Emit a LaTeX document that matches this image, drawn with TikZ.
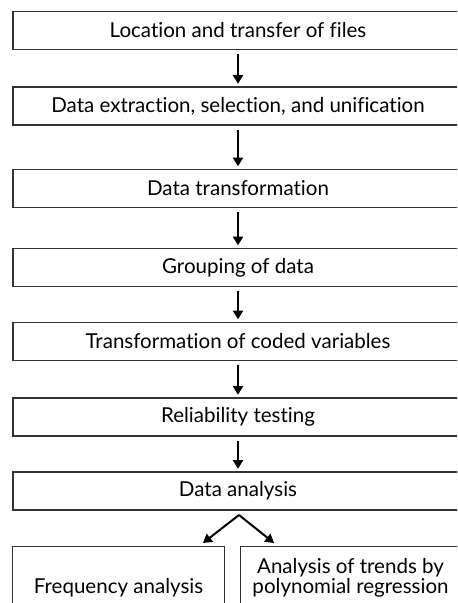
\documentclass[tikz,border=0pt]{standalone}
\usepackage{fontspec}
\setmainfont{Lato}[Ligatures=NoCommon]
\usetikzlibrary{positioning, arrows.meta}

\begin{document}
\begin{tikzpicture}[x=0.75pt, y=-0.75pt]
    % Define styles
    \tikzstyle{stage} = [draw=black!80, line width=0.8pt, minimum width=337.5pt, minimum height=28.5pt, inner sep=0pt, font=\fontsize{15.4}{15}\selectfont]
    \tikzstyle{result} = [stage, anchor=north west, align=center]
    \tikzstyle{flow} = [line width=1.5pt, -{Triangle[length=6.5pt, width=7.5pt]}, shorten <=3pt, shorten >=2pt]

    % Page frame
    \clip (0,0) rectangle (457,603);

    % Draw stages
    \node[stage] (files) at (238,30.5) {Location and transfer of files};
    \node[stage] (extract) at (238,106) {Data extraction, selection, and unification};
    \node[stage] (transform) at (238,188.5) {Data transformation};
    \node[stage] (group) at (238,267.5) {Grouping of data};
    \node[stage] (coded) at (238,341.5) {Transformation of coded variables};
    \node[stage] (reliab) at (238,417) {Reliability testing};
    \node[stage] (analysis) at (238,491) {Data analysis};

    % Two final analyses
    \node[result, minimum width=159pt, minimum height=61pt] (freq) at (12,546) {Frequency analysis};
    \node[result, minimum width=165pt, minimum height=47pt] (trend) at (240,546) {Analysis of trends by\\polynomial regression};

    % Arrows between stages
    \draw[flow] (files) -- (extract);
    \draw[flow] (extract) -- (transform);
    \draw[flow] (transform) -- (group);
    \draw[flow] (group) -- (coded);
    \draw[flow] (coded) -- (reliab);
    \draw[flow] (reliab) -- (analysis);

    % Split into the two analyses
    \coordinate (fork) at (239,515);
    \coordinate (forkL) at (203,543);
    \coordinate (forkR) at (274,543);
    \draw[flow, shorten <=0pt, shorten >=0pt] (fork) -- (forkL);
    \draw[flow, shorten <=0pt, shorten >=0pt] (fork) -- (forkR);
\end{tikzpicture}
\end{document}
